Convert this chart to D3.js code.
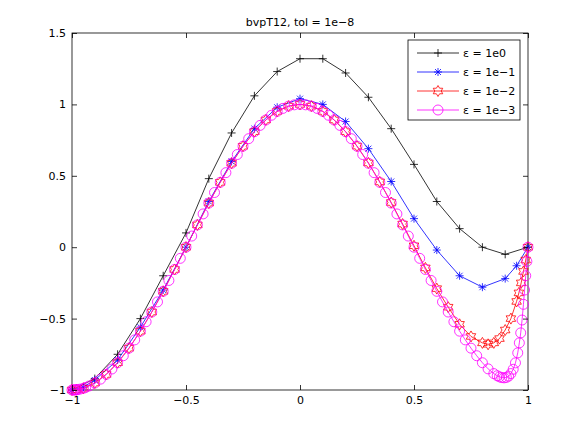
<!DOCTYPE html>
<html>
<head>
<style>
  body { margin: 0; background: #fff; }
  text { font-family: "DejaVu Sans", sans-serif; font-size: 11px; }
</style>
</head>
<body>
<svg width="582" height="438"></svg>
<script src="https://d3js.org/d3.v7.min.js"></script>
<script>
var xTicks = [-1, -0.5, 0, 0.5, 1];
var yTicks = [-1, -0.5, 0, 0.5, 1, 1.5];
var labels = ["\u03b5 = 1e0", "\u03b5 = 1e\u22121", "\u03b5 = 1e\u22122", "\u03b5 = 1e\u22123"];

var x1 = [-1, -0.9, -0.8, -0.7, -0.6, -0.5, -0.4, -0.3, -0.2, -0.1, 0, 0.1, 0.2, 0.3, 0.4, 0.5, 0.6, 0.7, 0.8, 0.9, 1];
var y1 = [-1, -0.92, -0.75, -0.5, -0.2, 0.1, 0.48, 0.8, 1.06, 1.23, 1.32, 1.32, 1.22, 1.05, 0.83, 0.58, 0.32, 0.13, 0.0, -0.05, 0];

var x2 = [-1, -0.95, -0.9, -0.8, -0.7, -0.6, -0.5, -0.4, -0.3, -0.2, -0.1, 0, 0.1, 0.2, 0.3, 0.4, 0.5, 0.6, 0.7, 0.8, 0.9, 0.95, 1];
var y2 = [-1, -0.98, -0.93, -0.79, -0.56, -0.3, 0.0, 0.32, 0.6, 0.83, 0.98, 1.04, 1.0, 0.88, 0.69, 0.46, 0.2, -0.02, -0.2, -0.28, -0.22, -0.13, 0];

var x3 = [-1, -0.98, -0.95, -0.9, -0.85, -0.8, -0.75, -0.7, -0.65, -0.6, -0.55, -0.5, -0.45, -0.4, -0.35, -0.3, -0.25, -0.2, -0.15, -0.1, -0.05, 0,
  0.05, 0.1, 0.15, 0.2, 0.25, 0.3, 0.35, 0.4, 0.45, 0.5, 0.55, 0.6, 0.65, 0.7, 0.75, 0.8, 0.825, 0.85, 0.875, 0.9, 0.925, 0.95, 0.96, 0.97, 0.98, 0.99, 1];
var y3 = [-1, -0.998, -0.988, -0.951, -0.891, -0.809, -0.707, -0.588, -0.454, -0.309, -0.156, 0, 0.156, 0.309, 0.454, 0.588, 0.707, 0.809, 0.891, 0.951, 0.988, 1,
  0.988, 0.951, 0.891, 0.809, 0.708, 0.59, 0.457, 0.313, 0.162, 0.01, -0.145, -0.29, -0.42, -0.54, -0.625, -0.67, -0.68, -0.67, -0.64, -0.58, -0.5, -0.38, -0.32, -0.25, -0.17, -0.09, 0];

var x4 = [-1, -0.995, -0.99, -0.985, -0.98, -0.975, -0.965, -0.95, -0.94, -0.925, -0.9, -0.875, -0.85, -0.825, -0.8, -0.775, -0.75, -0.725, -0.7, -0.675, -0.65, -0.625, -0.6, -0.575, -0.55, -0.525, -0.5,
  -0.475, -0.45, -0.425, -0.4, -0.375, -0.35, -0.325, -0.3, -0.275, -0.25, -0.225, -0.2, -0.175, -0.15, -0.125, -0.1, -0.075, -0.05, -0.025, 0,
  0.025, 0.05, 0.075, 0.1, 0.125, 0.15, 0.175, 0.2, 0.225, 0.25, 0.275, 0.3, 0.325, 0.35, 0.375, 0.4, 0.425, 0.45, 0.475, 0.5,
  0.525, 0.55, 0.575, 0.6, 0.625, 0.65, 0.675, 0.7, 0.725, 0.75, 0.775, 0.8, 0.825, 0.85, 0.865, 0.875, 0.885, 0.895, 0.905, 0.915, 0.925, 0.935, 0.945, 0.955, 0.962, 0.968, 0.974, 0.98, 0.985, 0.99, 0.995, 1];
var y4 = [-1, -1, -1, -0.999, -0.998, -0.997, -0.994, -0.988, -0.982, -0.972, -0.951, -0.924, -0.891, -0.853, -0.809, -0.76, -0.707, -0.649, -0.588, -0.522, -0.454, -0.383, -0.309, -0.233, -0.156, -0.078, 0,
  0.078, 0.156, 0.233, 0.309, 0.383, 0.454, 0.522, 0.588, 0.649, 0.707, 0.76, 0.809, 0.853, 0.891, 0.924, 0.951, 0.972, 0.988, 0.997, 1,
  0.997, 0.988, 0.972, 0.951, 0.924, 0.891, 0.853, 0.809, 0.76, 0.707, 0.649, 0.588, 0.522, 0.454, 0.383, 0.309, 0.233, 0.156, 0.078, 0,
  -0.078, -0.156, -0.233, -0.309, -0.383, -0.454, -0.522, -0.588, -0.649, -0.707, -0.76, -0.809, -0.852, -0.885, -0.9, -0.908, -0.913, -0.915, -0.912, -0.903, -0.885, -0.855, -0.81, -0.74, -0.67, -0.6, -0.51, -0.4, -0.3, -0.2, -0.1, 0];

var series = [
  { xs: x1, ys: y1, color: "#000", marker: "plus" },
  { xs: x2, ys: y2, color: "#0000ff", marker: "star" },
  { xs: x3, ys: y3, color: "#ff0000", marker: "hex" },
  { xs: x4, ys: y4, color: "#ff00ff", marker: "circle" }
];

var svg = d3.select("svg"),
  margin = { top: 33, right: 54, bottom: 48, left: 72 },
  width = +svg.attr("width"),
  height = +svg.attr("height");

var x = d3.scaleLinear().domain([-1, 1]).range([margin.left, width - margin.right]);
var y = d3.scaleLinear().domain([-1, 1.5]).range([height - margin.bottom, margin.top]);

function markerPath(type) {
  var p = d3.path();
  if (type === "plus") {
    p.moveTo(-4, 0); p.lineTo(4, 0); p.moveTo(0, -4); p.lineTo(0, 4);
  } else if (type === "star") {
    p.moveTo(-4, 0); p.lineTo(4, 0); p.moveTo(0, -4); p.lineTo(0, 4);
    p.moveTo(-3, -3); p.lineTo(3, 3); p.moveTo(-3, 3); p.lineTo(3, -3);
  } else if (type === "hex") {
    for (var i = 0; i < 12; i++) {
      var r = i % 2 === 0 ? 5.5 : 3.2, a = -Math.PI / 2 + i * Math.PI / 6;
      if (i === 0) p.moveTo(r * Math.cos(a), r * Math.sin(a)); else p.lineTo(r * Math.cos(a), r * Math.sin(a));
    }
    p.closePath();
  } else {
    p.arc(0, 0, 5, 0, 2 * Math.PI);
  }
  return p.toString();
}

svg.append("rect").attr("x", margin.left).attr("y", margin.top)
  .attr("width", x(1) - x(-1)).attr("height", y(-1) - y(1.5))
  .attr("fill", "#fff").attr("stroke", "#000").attr("stroke-width", 0.8);

var line = d3.line();
series.forEach(function (s) {
  var pts = s.xs.map(function (v, i) { return [x(v), y(s.ys[i])]; });
  svg.append("path").attr("d", line(pts)).attr("fill", "none").attr("stroke", s.color).attr("stroke-width", 0.8);
  svg.append("g").selectAll("path").data(pts).enter().append("path")
    .attr("d", markerPath(s.marker))
    .attr("transform", function (d) { return "translate(" + d[0] + "," + d[1] + ")"; })
    .attr("fill", "none").attr("stroke", s.color).attr("stroke-width", 0.8);
});

function styleAxis(showText) {
  return function (g) {
    g.select(".domain").remove();
    g.selectAll("line").attr("stroke", "#000").attr("stroke-width", 0.8);
    if (showText) {
      g.selectAll("text").attr("fill", "#000").style("font-size", "11px")
        .text(function (d) { return String(d).replace("-", "\u2212"); });
    } else {
      g.selectAll("text").remove();
    }
  };
}
function ax(a, vals) { return a.tickValues(vals).tickSizeInner(-5).tickSizeOuter(0).tickPadding(6); }

svg.append("g").attr("transform", "translate(0," + y(-1) + ")").call(ax(d3.axisBottom(x), xTicks)).call(styleAxis(true));
svg.append("g").attr("transform", "translate(0," + y(1.5) + ")").call(ax(d3.axisTop(x), xTicks)).call(styleAxis(false));
svg.append("g").attr("transform", "translate(" + x(-1) + ",0)").call(ax(d3.axisLeft(y), yTicks)).call(styleAxis(true));
svg.append("g").attr("transform", "translate(" + x(1) + ",0)").call(ax(d3.axisRight(y), yTicks)).call(styleAxis(false));

svg.append("text").attr("x", (x(-1) + x(1)) / 2).attr("y", margin.top - 7)
  .attr("text-anchor", "middle").text("bvpT12, tol = 1e\u22128");

var lg = svg.append("g").attr("transform", "translate(408,40)");
lg.append("rect").attr("width", 112).attr("height", 80).attr("fill", "#fff").attr("stroke", "#000").attr("stroke-width", 0.8);
series.forEach(function (s, i) {
  var yy = 13 + i * 19;
  lg.append("line").attr("x1", 9).attr("x2", 51).attr("y1", yy).attr("y2", yy).attr("stroke", s.color).attr("stroke-width", 0.8);
  lg.append("path").attr("d", markerPath(s.marker)).attr("transform", "translate(30," + yy + ")")
    .attr("fill", "none").attr("stroke", s.color).attr("stroke-width", 0.8);
  lg.append("text").attr("x", 55).attr("y", yy + 4).text(labels[i]);
});
</script>
</body>
</html>
